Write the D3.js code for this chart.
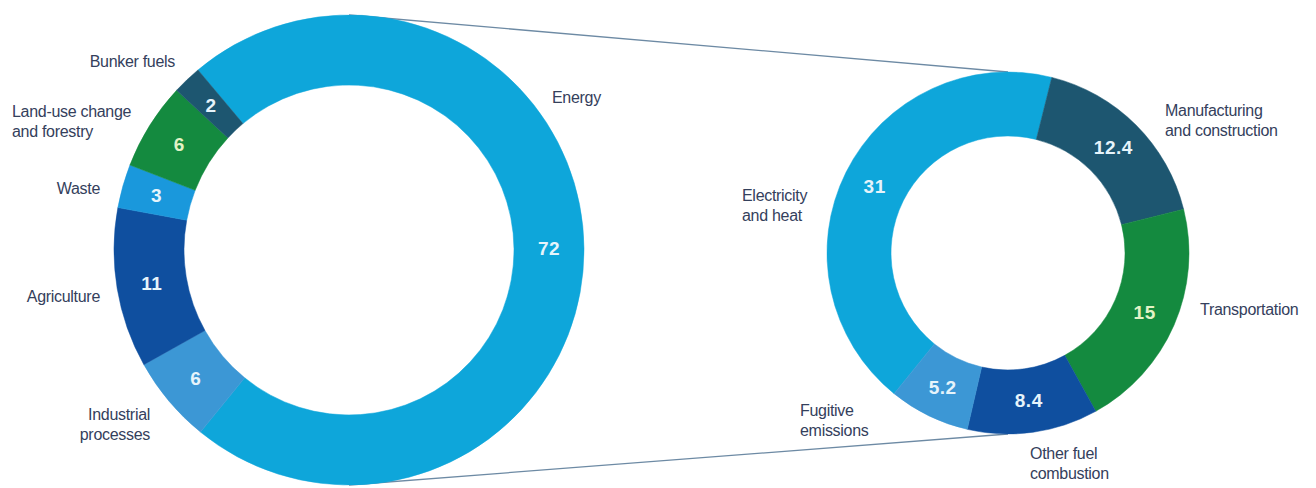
<!DOCTYPE html>
<html>
<head>
<meta charset="utf-8">
<script src="https://cdn.jsdelivr.net/npm/d3@7"></script>
<style>
  body { margin: 0; background: #fff; }
  svg text { font-family: "Liberation Sans", Arial, sans-serif; }
</style>
</head>
<body>
<svg id="chart" width="1316" height="488"></svg>
<script>
// left ring: all sectors
var sectors = ['Energy', 'Industrial processes', 'Agriculture', 'Waste', 'Land-use change and forestry', 'Bunker fuels'];
var sectorValues = [72, 6, 11, 3, 6, 2];
var sectorColors = ['#0ea6da', '#3c97d5', '#0f4f9f', '#1a98dc', '#148a3f', '#1d5670'];

// right ring: breakdown of energy
var energyParts = ['Electricity and heat', 'Manufacturing and construction', 'Transportation', 'Other fuel combustion', 'Fugitive emissions'];
var energyValues = [31, 12.4, 15, 8.4, 5.2];
var energyColors = ['#0ea6da', '#1d5670', '#148a3f', '#0f4f9f', '#3c97d5'];

var valueLabels = ['72', '6', '11', '3', '6', '2'];
var energyValueLabels = ['31', '12.4', '15', '8.4', '5.2'];

// where the category names sit (text only)
var leftNames = [
  {lines: ['Energy'], x: 552, y: 103, anchor: 'start'},
  {lines: ['Industrial', 'processes'], x: 150, y: 420, anchor: 'end'},
  {lines: ['Agriculture'], x: 100, y: 302, anchor: 'end'},
  {lines: ['Waste'], x: 100, y: 194, anchor: 'end'},
  {lines: ['Land-use change', 'and forestry'], x: 12, y: 117, anchor: 'start'},
  {lines: ['Bunker fuels'], x: 175, y: 67, anchor: 'end'}
];
var rightNames = [
  {lines: ['Electricity', 'and heat'], x: 742, y: 201, anchor: 'start'},
  {lines: ['Manufacturing', 'and construction'], x: 1165, y: 116, anchor: 'start'},
  {lines: ['Transportation'], x: 1200, y: 315, anchor: 'start'},
  {lines: ['Other fuel', 'combustion'], x: 1030, y: 459, anchor: 'start'},
  {lines: ['Fugitive', 'emissions'], x: 800, y: 416, anchor: 'start'}
];

var svg = d3.select('#chart');
var deg = Math.PI / 180;

var left = {cx: 349, cy: 250, r: 235, ir: 165};
var right = {cx: 1008, cy: 253, r: 181, ir: 117};

// connector lines (behind the rings)
svg.append('line')
  .attr('x1', left.cx).attr('y1', left.cy - left.r)
  .attr('x2', right.cx).attr('y2', right.cy - right.r)
  .attr('stroke', '#6d8aa4').attr('stroke-width', 1.3);
svg.append('line')
  .attr('x1', left.cx).attr('y1', left.cy + left.r)
  .attr('x2', right.cx).attr('y2', right.cy + right.r)
  .attr('stroke', '#6d8aa4').attr('stroke-width', 1.3);

function drawRing(ring, values, colors, labels, names, start) {
  var pie = d3.pie().sort(null).startAngle(start).endAngle(start + 2 * Math.PI);
  var arc = d3.arc().innerRadius(ring.ir).outerRadius(ring.r);
  var g = svg.append('g').attr('transform', 'translate(' + ring.cx + ',' + ring.cy + ')');
  var arcs = pie(values);

  g.selectAll('path')
    .data(arcs)
    .enter()
    .append('path')
    .attr('d', arc)
    .attr('fill', function(d, i) { return colors[i]; })
    .attr('stroke', function(d, i) { return colors[i]; })
    .attr('stroke-width', 0.5);

  g.selectAll('text.val')
    .data(arcs)
    .enter()
    .append('text')
    .attr('class', 'val')
    .attr('transform', function(d) { return 'translate(' + arc.centroid(d) + ')'; })
    .attr('text-anchor', 'middle')
    .attr('dy', '0.36em')
    .attr('font-size', 19)
    .attr('font-weight', 'bold')
    .attr('letter-spacing', 0.5)
    .attr('fill', function(d, i) { return colors[i] == '#148a3f' ? '#e3f3c6' : '#e6f4fb'; })
    .text(function(d, i) { return labels[i]; });

  names.forEach(function(n) {
    var t = svg.append('text')
      .attr('x', n.x).attr('y', n.y)
      .attr('text-anchor', n.anchor)
      .attr('font-size', 16)
      .attr('letter-spacing', -0.3)
      .attr('fill', '#34405c');
    n.lines.forEach(function(l, j) {
      t.append('tspan').attr('x', n.x).attr('dy', j == 0 ? 0 : 20).text(l);
    });
  });
}

drawRing(left, sectorValues, sectorColors, valueLabels, leftNames, -40 * deg);
drawRing(right, energyValues, energyColors, energyValueLabels, rightNames, -141 * deg);
</script>
</body>
</html>
